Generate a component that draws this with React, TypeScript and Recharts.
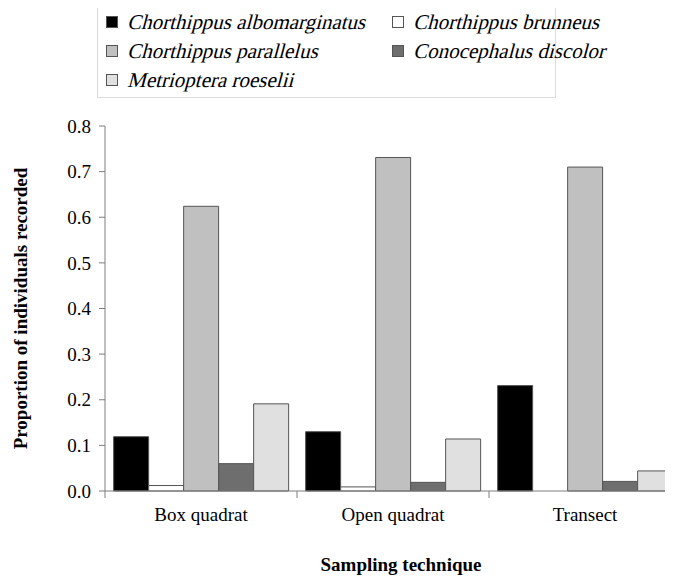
import { Bar, BarChart, Label, XAxis, YAxis } from 'recharts';

const techniques = ['Box quadrat', 'Open quadrat', 'Transect'];

const species = [
  'Chorthippus albomarginatus',
  'Chorthippus brunneus',
  'Chorthippus parallelus',
  'Conocephalus discolor',
  'Metrioptera roeselii',
];

const albomarginatus = [0.119, 0.13, 0.231];
const brunneus = [0.012, 0.009, 0];
const parallelus = [0.624, 0.731, 0.71];
const discolor = [0.06, 0.019, 0.021];
const roeselii = [0.191, 0.114, 0.044];

const yTicks = [0, 0.1, 0.2, 0.3, 0.4, 0.5, 0.6, 0.7, 0.8];

const fills = ['#000000', '#ffffff', '#c0c0c0', '#6e6e6e', '#e0e0e0'];

const seriesValues = [albomarginatus, brunneus, parallelus, discolor, roeselii];

const data = techniques.map((t, i) => {
  const row: Record<string, string | number> = { technique: t };
  species.forEach((s, j) => {
    row[s] = seriesValues[j][i];
  });
  return row;
});

const FONT = 'Liberation Serif';
const AXIS = '#7f7f7f';

// category label plus the boundary tick marks that the original draws
const CategoryTick = (props: any) => {
  const { x, y, payload, index, visibleTicksCount } = props;
  const half = payload.offset ?? 0;
  return (
    <g>
      <line x1={x - half} x2={x - half} y1={y - 8} y2={y - 1} stroke={AXIS} />
      {index === visibleTicksCount - 1 && (
        <line x1={x + half} x2={x + half} y1={y - 8} y2={y - 1} stroke={AXIS} />
      )}
      <text
        x={x}
        y={y + 22}
        textAnchor="middle"
        fontFamily={FONT}
        fontSize={19}
        fill="#000"
      >
        {payload.value}
      </text>
    </g>
  );
};

// no italic face installed for the serif, so slant the regular one
const SpeciesLegend = () => (
  <svg
    width={673}
    height={100}
    style={{ position: 'absolute', left: 0, top: 0 }}
  >
    <rect x={97.5} y={3.5} width={458} height={94} fill="#fff" stroke="#dcdcdc" />
    {species.map((s, i) => {
      const x = i % 2 === 0 ? 106 : 392;
      const cy = 22 + Math.floor(i / 2) * 29;
      return (
        <g key={s}>
          <rect x={x + 0.5} y={cy - 5.5} width={11} height={11} fill={fills[i]} stroke="#555" />
          <text
            transform={`translate(${x + 21},${cy + 7}) skewX(-15)`}
            fontFamily={FONT}
            fontSize={21}
            fill="#000"
          >
            {s}
          </text>
        </g>
      );
    })}
  </svg>
);

export default function App() {
  return (
    <div
      style={{
        position: 'relative',
        marginLeft: -8,
        marginTop: -8,
        width: 673,
        height: 577,
        overflow: 'hidden',
        background: '#fff',
      }}
    >
      <BarChart
        width={700}
        height={577}
        data={data}
        margin={{ top: 126, right: 19, bottom: 0, left: 0 }}
        barCategoryGap="4.5%"
        barGap={0}
      >
        <XAxis
          dataKey="technique"
          stroke={AXIS}
          tickLine={false}
          tick={<CategoryTick />}
          interval={0}
          height={86}
        >
          <Label
            value="Sampling technique"
            position="insideBottom"
            offset={6}
            dx={8}
            style={{
              fontFamily: FONT,
              fontWeight: 'bold',
              fontSize: 19,
              fill: '#000',
            }}
          />
        </XAxis>
        <YAxis
          width={105}
          domain={[0, 0.8]}
          ticks={yTicks}
          interval={0}
          stroke={AXIS}
          tickSize={6}
          tickMargin={8}
          tickFormatter={(v: number) => v.toFixed(1)}
          tick={{ fontFamily: FONT, fontSize: 19, fill: '#000' }}
        >
          <Label
            value="Proportion of individuals recorded"
            angle={-90}
            position="insideLeft"
            offset={20}
            style={{
              fontFamily: FONT,
              fontWeight: 'bold',
              fontSize: 19,
              fill: '#000',
              textAnchor: 'middle',
            }}
          />
        </YAxis>
        {species.map((s, i) => (
          <Bar
            key={s}
            dataKey={s}
            fill={fills[i]}
            stroke="#555"
            strokeWidth={1}
            isAnimationActive={false}
          />
        ))}
      </BarChart>
      <SpeciesLegend />
    </div>
  );
}
